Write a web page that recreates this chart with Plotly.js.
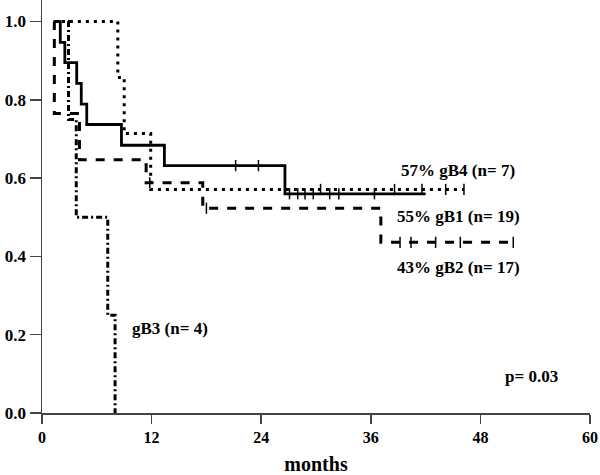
<!DOCTYPE html>
<html><head><meta charset="utf-8">
<script src="https://cdn.plot.ly/plotly-3.0.1.min.js"></script>
<style>html,body{margin:0;padding:0;background:#fff}</style>
</head><body><div id="chart" style="width:600px;height:475px"></div>
<script>
// Kaplan-Meier step data (months, survival)
const gB1_t = [1.3, 2.0, 2.5, 3.8, 4.3, 4.9, 8.7, 13.4, 26.6, 42.0];
const gB1_s = [1.0, 0.947, 0.895, 0.842, 0.789, 0.737, 0.684, 0.632, 0.56, 0.56];
const gB1_cens_t = [21.2, 23.7, 27.1, 28.0, 28.8, 29.7, 31.5, 32.5, 36.4];
const gB1_cens_s = [0.632, 0.632, 0.56, 0.56, 0.56, 0.56, 0.56, 0.56, 0.56];

const gB4_t = [1.3, 8.3, 9.0, 11.9, 46.2];
const gB4_s = [1.0, 0.857, 0.714, 0.571, 0.571];
const gB4_cens_t = [30.5, 38.6, 41.6, 44.2, 46.2];
const gB4_cens_s = [0.571, 0.571, 0.571, 0.571, 0.571];

const gB2_t = [1.3, 1.35, 4.1, 11.4, 17.6, 37.1, 52.0];
const gB2_s = [1.0, 0.765, 0.647, 0.588, 0.523, 0.436, 0.436];
const gB2_cens_t = [11.8, 18.0, 39.2, 40.4, 43.1, 45.8, 51.6];
const gB2_cens_s = [0.588, 0.523, 0.436, 0.436, 0.436, 0.436, 0.436];

const gB3_t = [1.3, 2.9, 3.75, 7.2, 8.0];
const gB3_s = [1.0, 0.75, 0.5, 0.25, 0.0];

const xTicks = [0, 12, 24, 36, 48, 60];
const yTicks = [0.0, 0.2, 0.4, 0.6, 0.8, 1.0];

const labels = [
  {text: "57% gB4 (n= 7)", x: 39.1, y: 0.619},
  {text: "55% gB1 (n= 19)", x: 38.6, y: 0.503},
  {text: "43% gB2 (n= 17)", x: 38.6, y: 0.372},
  {text: "gB3 (n= 4)", x: 9.6, y: 0.217},
  {text: "p= 0.03", x: 50.5, y: 0.092}
];

const serif = "Liberation Serif, Times New Roman, serif";

function stepLine(t, s, dash, width) {
  return {x: t, y: s, type: "scatter", mode: "lines",
    line: {shape: "hv", color: "#000", width: width, dash: dash},
    hoverinfo: "skip", showlegend: false};
}
function cens(t, s) {
  return {x: t, y: s, type: "scatter", mode: "markers",
    marker: {symbol: "line-ns-open", size: 8, color: "#000", line: {width: 1.5, color: "#000"}},
    hoverinfo: "skip", showlegend: false, cliponaxis: false};
}

const data = [
  stepLine(gB3_t, gB3_s, "6px,3px,2px,3px", 3),
  stepLine(gB2_t, gB2_s, "9px,9px", 3),
  stepLine(gB4_t, gB4_s, "3px,5px", 3),
  stepLine(gB1_t, gB1_s, "solid", 2.8),
  cens(gB1_cens_t, gB1_cens_s),
  cens(gB4_cens_t, gB4_cens_s),
  cens(gB2_cens_t, gB2_cens_s)
];

const layout = {
  width: 600, height: 475,
  margin: {l: 42, r: 10, t: 0, b: 62},
  paper_bgcolor: "#fff", plot_bgcolor: "#fff",
  showlegend: false,
  xaxis: {
    range: [0, 60], tickvals: xTicks, ticktext: xTicks.map(String),
    showgrid: false, zeroline: false, showline: true, linecolor: "#444", linewidth: 1.5,
    ticks: "outside", ticklen: 9, tickwidth: 1.5, tickcolor: "#444",
    ticklabeloverflow: "allow",
    tickfont: {family: serif, size: 16, color: "#000", weight: "bold"},
    title: {text: "months", font: {family: serif, size: 20, color: "#000", weight: "bold"}, standoff: 12}
  },
  yaxis: {
    range: [0, 1.055], tickvals: yTicks, ticktext: yTicks.map(v => v.toFixed(1)),
    showgrid: false, zeroline: false, showline: true, linecolor: "#444", linewidth: 1.5,
    ticks: "outside", ticklen: 11, tickwidth: 1.5, tickcolor: "#444",
    ticklabeloverflow: "allow",
    tickfont: {family: serif, size: 17, color: "#000", weight: "bold"}
  },
  annotations: labels.map(l => ({
    text: l.text, x: l.x, y: l.y, xref: "x", yref: "y",
    xanchor: "left", yanchor: "middle", showarrow: false,
    font: {family: serif, size: 17, color: "#000", weight: "bold"}
  }))
};

Plotly.newPlot("chart", data, layout, {staticPlot: true, displayModeBar: false});
</script></body></html>
